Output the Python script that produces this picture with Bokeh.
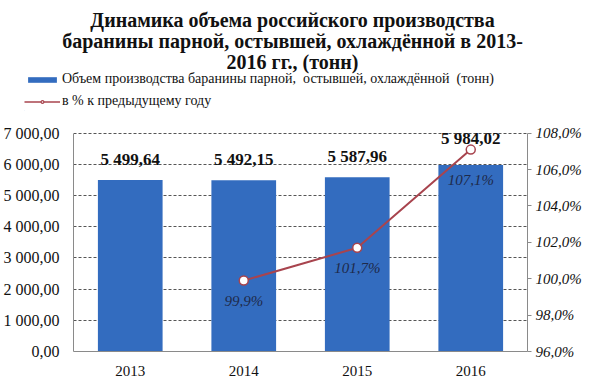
from bokeh.plotting import figure
from bokeh.layouts import column
from bokeh.models import (ColumnDataSource, Range1d, FactorRange, LinearAxis, FixedTicker,
                          CustomJSTickFormatter, LabelSet, Label, Legend, LegendItem)
from bokeh.embed import file_html
from bokeh.resources import INLINE

years = ["2013", "2014", "2015", "2016"]
volume = [5499.64, 5492.15, 5587.96, 5984.02]
pct_years = ["2014", "2015", "2016"]
pct = [99.9, 101.7, 107.1]
left_ticks = [0, 1000, 2000, 3000, 4000, 5000, 6000, 7000]
right_ticks = [96, 98, 100, 102, 104, 106, 108]
title_lines = ["Динамика объема российского производства",
               "баранины парной, остывшей, охлаждённой в 2013-",
               "2016 гг., (тонн)"]
bar_name = "Объем производства баранины парной,  остывшей, охлаждённой  (тонн)"
line_name = "в % к предыдущему году"

SERIF = "Liberation Serif"
BAR_COLOR = "#336cbf"
LINE_COLOR = "#a8444e"
Y0, Y1 = 0, 7000
P0, P1 = 96, 108
PAD = 1.04          # a little headroom above the 7000 line for the labels
W = 584
HEAD_H = 118
MAIN_H = 260

def fmt_num(v):
    return f"{v:,.2f}".replace(",", " ").replace(".", ",")

def fmt_pct(v):
    return f"{v:.1f}".replace(".", ",") + "%"

def to_pct(v):
    return (v - Y0) / (Y1 - Y0) * (P1 - P0) + P0

def to_vol(q):
    return (q - P0) / (P1 - P0) * (Y1 - Y0) + Y0

# bar label above the bar, or above the line point when that is higher;
# percent label below its point, kept inside the bar when the point is above the bar
vol_map = dict(zip(years, volume))
pct_map = dict(zip(pct_years, pct))
lab_y = [max(v, to_vol(pct_map[yr]) - 300) if yr in pct_map else v
         for yr, v in zip(years, volume)]
pct_lab_y = [min(q, to_pct(vol_map[yr]) + 0.25) for yr, q in zip(pct_years, pct)]

bar_src = ColumnDataSource(dict(x=years, y=volume, ly=lab_y, lab=[fmt_num(v) for v in volume]))
line_src = ColumnDataSource(dict(x=pct_years, y=pct, ly=pct_lab_y, lab=[fmt_pct(v) for v in pct]))

# ---------------- header: title + legend ----------------
HB_L, HB_B = 24, 8
h = figure(width=W, height=HEAD_H, output_backend="svg", toolbar_location=None,
           x_range=Range1d(HB_L, W), y_range=Range1d(HB_B, HEAD_H),
           x_axis_type=None, y_axis_type=None,
           min_border_left=HB_L, min_border_right=0, min_border_top=0, min_border_bottom=HB_B)
h.outline_line_color = None
h.xgrid.visible = False
h.ygrid.visible = False
for i, t in enumerate(title_lines):
    h.add_layout(Label(x=292, y=HEAD_H - 19 - 21 * i, text=t, text_align="center",
                       text_baseline="alphabetic", text_font=SERIF, text_font_style="bold",
                       text_font_size="20px", text_color="#111111"))

# legend keys: renderers styled like the chart's, with their single point out of view
key_bar = ColumnDataSource(dict(x=[-1000], top=[0]))
key_line = ColumnDataSource(dict(x=[-1000, -999], y=[0, 0]))
hb = h.vbar(x="x", top="top", width=1, source=key_bar, fill_color=BAR_COLOR, line_color=None)
hl = h.line(x="x", y="y", source=key_line, line_color=LINE_COLOR, line_width=1.5)
hs = h.scatter(x="x", y="y", source=key_line, size=7, fill_color="white",
               line_color=LINE_COLOR, line_width=1.2)
legend = Legend(items=[LegendItem(label=bar_name, renderers=[hb]),
                       LegendItem(label=line_name, renderers=[hl, hs])],
                location="bottom_left", orientation="vertical", padding=0, margin=0,
                spacing=4, glyph_width=36, glyph_height=7, label_height=18,
                label_standoff=2, border_line_alpha=0, background_fill_alpha=0,
                label_text_font=SERIF, label_text_font_size="14px",
                label_text_color="#111111")
h.add_layout(legend, "center")

# ---------------- main chart ----------------
p = figure(width=W, height=MAIN_H, output_backend="svg", toolbar_location=None,
           x_range=FactorRange(*years, range_padding=0), y_range=Range1d(Y0, Y1 * PAD),
           min_border_left=66, min_border_right=54, min_border_top=6, min_border_bottom=27)
p.extra_y_ranges = {"pct": Range1d(P0, P0 + (P1 - P0) * PAD)}
p.outline_line_color = None

# keep the two stacked figures from aligning their frames
for fig in (h, p):
    if "frame_align" in fig.properties():
        fig.frame_align = False

p.vbar(x="x", top="y", width=0.57, source=bar_src, fill_color=BAR_COLOR, line_color=None)
p.line(x="x", y="y", source=line_src, y_range_name="pct", line_color=LINE_COLOR, line_width=2)
p.scatter(x="x", y="y", source=line_src, y_range_name="pct", size=9,
          fill_color="white", line_color=LINE_COLOR, line_width=1.5)

p.xaxis.axis_line_color = "#8a8a8a"
p.xaxis.major_tick_line_color = None
p.xaxis.minor_tick_line_color = None
p.xaxis.major_label_text_font = SERIF
p.xaxis.major_label_text_font_size = "15px"
p.xaxis.major_label_text_color = "#111111"
p.xaxis.major_label_standoff = 8

ly = p.yaxis[0]
ly.bounds = (Y0, Y1)
ly.ticker = FixedTicker(ticks=left_ticks)
ly.formatter = CustomJSTickFormatter(code="""
const s = tick.toFixed(2).replace('.', ',');
const parts = s.split(',');
const ip = parts[0].replace(/\\B(?=(\\d{3})+(?!\\d))/g, ' ');
return ip + ',' + parts[1];
""")
ly.axis_line_color = "#8a8a8a"
ly.major_tick_line_color = None
ly.minor_tick_line_color = None
ly.major_label_text_font = SERIF
ly.major_label_text_font_size = "16px"
ly.major_label_text_color = "#111111"
ly.major_label_standoff = 8

ra = LinearAxis(y_range_name="pct", bounds=(P0, P1), ticker=FixedTicker(ticks=right_ticks),
                formatter=CustomJSTickFormatter(code="return tick.toFixed(1).replace('.', ',') + '%';"))
ra.axis_line_color = "#8a8a8a"
ra.major_tick_line_color = "#8a8a8a"
ra.major_tick_out = 4
ra.major_tick_in = 0
ra.minor_tick_line_color = None
ra.major_label_text_font = SERIF
ra.major_label_text_font_style = "italic"
ra.major_label_text_font_size = "15px"
ra.major_label_text_color = "#111111"
ra.major_label_standoff = 4
p.add_layout(ra, "right")

p.xgrid.grid_line_color = None
p.ygrid.ticker = FixedTicker(ticks=left_ticks)
p.ygrid.grid_line_color = "#555555"
p.ygrid.grid_line_dash = "3 2"
p.ygrid.grid_line_width = 1

p.add_layout(LabelSet(x="x", y="ly", text="lab", source=bar_src, text_align="center",
                      text_baseline="bottom", y_offset=11, text_font=SERIF,
                      text_font_style="bold", text_font_size="17px", text_color="#111111"))
p.add_layout(LabelSet(x="x", y="ly", text="lab", source=line_src, y_range_name="pct",
                      text_align="center", text_baseline="top", y_offset=-12,
                      text_font=SERIF, text_font_style="italic", text_font_size="15px",
                      text_color="#1e2a4a"))

layout = column(h, p, spacing=0)
open("out.html", "w").write(file_html(layout, INLINE))
